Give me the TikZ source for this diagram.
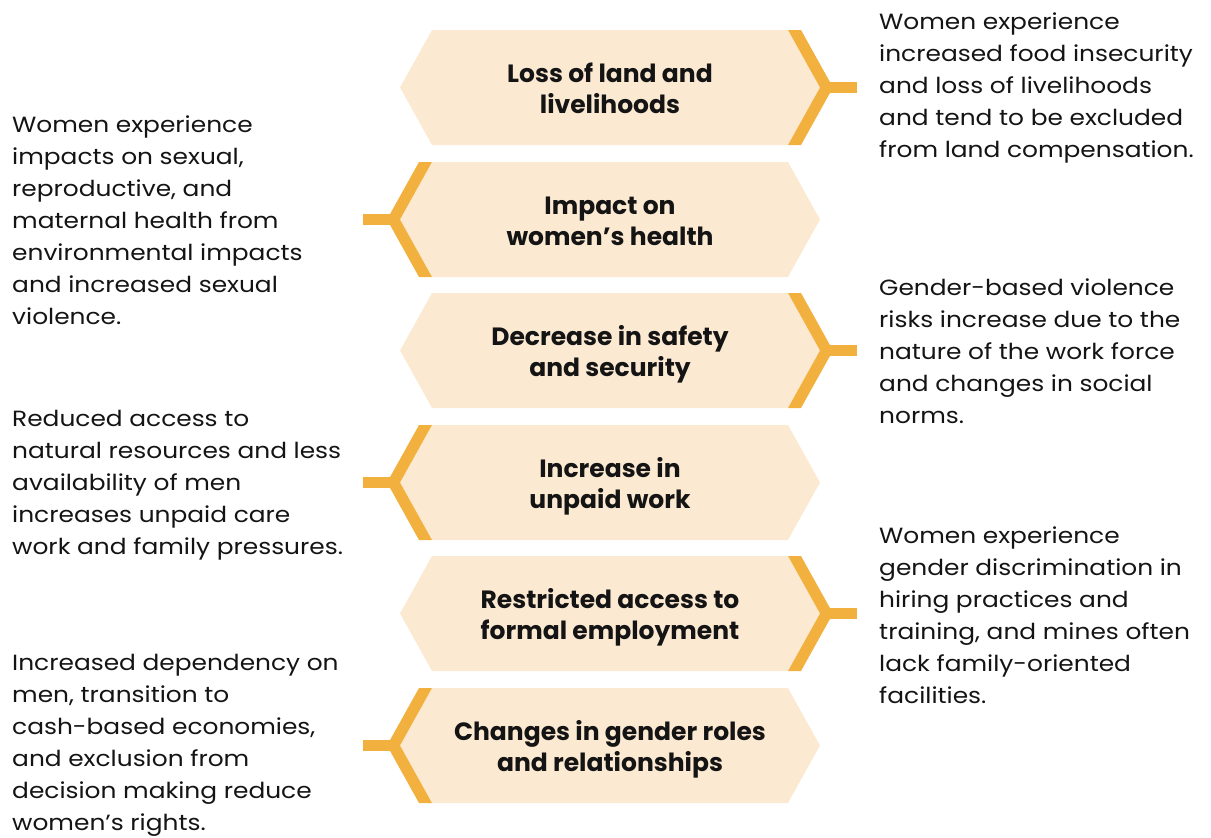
\documentclass[tikz,border=0pt]{standalone}
\usepackage{fontspec}
\setmainfont{Poppins}
\newfontfamily\bodyfont[FakeStretch=1.13]{Poppins}
\definecolor{peach}{HTML}{FCE9D2}
\definecolor{gold}{HTML}{F2B13F}
\definecolor{ink}{HTML}{141414}
\newcommand\hexat[1]{%
  \fill[peach] (432,#1) -- (788,#1) -- (820,{#1+57.5}) -- (788,{#1+115}) -- (432,{#1+115}) -- (400,{#1+57.5}) -- cycle;}
\newcommand\bandright[1]{%
  \fill[gold] (788,#1) -- (801,#1) -- (833,{#1+57.5}) -- (801,{#1+115}) -- (788,{#1+115}) -- (820,{#1+57.5}) -- cycle;
  \fill[gold] (825,{#1+52}) rectangle (857,{#1+63});}
\newcommand\bandleft[1]{%
  \fill[gold] (432,#1) -- (419,#1) -- (387,{#1+57.5}) -- (419,{#1+115}) -- (432,{#1+115}) -- (400,{#1+57.5}) -- cycle;
  \fill[gold] (363,{#1+52}) rectangle (395,{#1+63});}
\newcommand\desclines[1]{\begin{tabular}[t]{@{}l@{}}#1\end{tabular}}
\newcommand\titlelines[1]{\begin{tabular}[t]{@{}c@{}}#1\end{tabular}}
\tikzset{
  desc/.style={anchor=base west, inner sep=0pt, text=ink, font=\bodyfont\fontsize{22}{32}\selectfont},
  title/.style={anchor=base, inner sep=0pt, text=ink, font=\fontsize{25}{31.5}\selectfont\bfseries},
}
\begin{document}
\begin{tikzpicture}[x=1pt,y=-1pt]
\useasboundingbox (0,0) rectangle (1211,838);
\hexat{30}\bandright{30}
\hexat{162}\bandleft{162}
\hexat{293}\bandright{293}
\hexat{425}\bandleft{425}
\hexat{556}\bandright{556}
\hexat{688}\bandleft{688}
\node[title] (t1) at (610,82) {\titlelines{Loss of land and\\livelihoods}};
\node[title] (t2) at (610,214) {\titlelines{Impact on\\women’s health}};
\node[title] (t3) at (610,345) {\titlelines{Decrease in safety\\and security}};
\node[title] (t4) at (610,477) {\titlelines{Increase in\\unpaid work}};
\node[title] (t5) at (610,608) {\titlelines{Restricted access to\\formal employment}};
\node[title] (t6) at (610,740) {\titlelines{Changes in gender roles\\and relationships}};
\node[desc] (d1) at (879,29) {\desclines{Women experience\\increased food insecurity\\and loss of livelihoods\\and tend to be excluded\\from land compensation.}};
\node[desc] (d2) at (12,132) {\desclines{Women experience\\impacts on sexual,\\reproductive, and\\maternal health from\\environmental impacts\\and increased sexual\\violence.}};
\node[desc] (d3) at (879,295) {\desclines{Gender-based violence\\risks increase due to the\\nature of the work force\\and changes in social\\norms.}};
\node[desc] (d4) at (12,426) {\desclines{Reduced access to\\natural resources and less\\availability of men\\increases unpaid care\\work and family pressures.}};
\node[desc] (d5) at (879,543) {\desclines{Women experience\\gender discrimination in\\hiring practices and\\training, and mines often\\lack family-oriented\\facilities.}};
\node[desc] (d6) at (12,670.5) {\desclines{Increased dependency on\\men, transition to\\cash-based economies,\\and exclusion from\\decision making reduce\\women’s rights.}};
\end{tikzpicture}
\end{document}
